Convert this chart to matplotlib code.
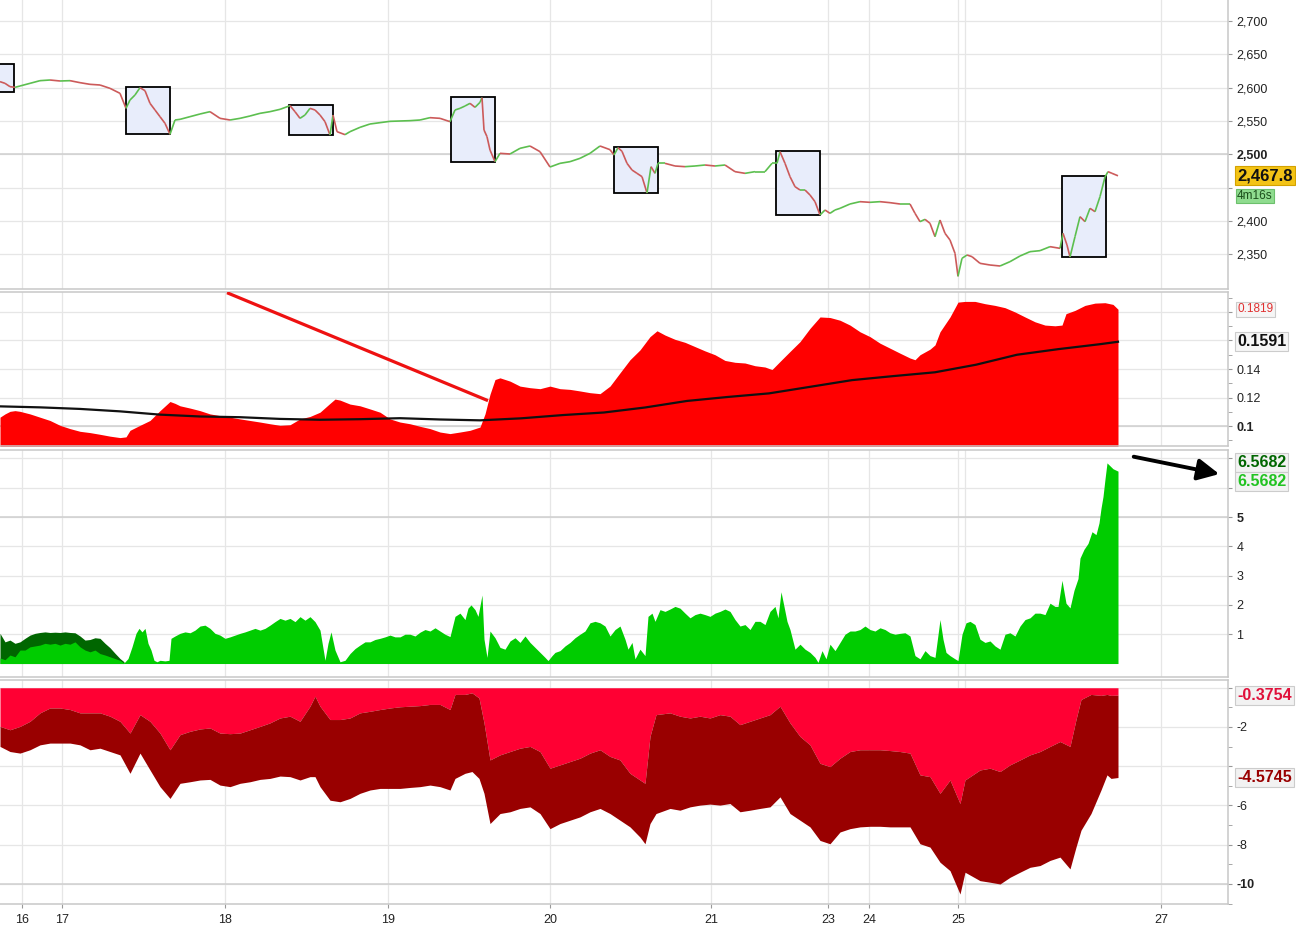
import numpy as np
import matplotlib
matplotlib.use('Agg')
import matplotlib.pyplot as plt
from matplotlib.collections import LineCollection
from matplotlib.patches import Rectangle

plt.rcParams['font.family'] = ['Liberation Sans', 'DejaVu Sans']

# time axis: bar position (weekends / nights compressed)
day_pos = [22, 62, 225, 388, 550, 711, 828, 869, 958, 1161]
day_labels = ['16', '17', '18', '19', '20', '21', '23', '24', '25', '27']
session_pos = [965]
x_end = 1228

# ---- panel 1: price ----
price_x = [0, 5, 10, 15, 20, 30, 40, 50, 60, 70, 80, 90, 100, 110, 120, 126, 130, 135, 140, 145,
           150, 155, 160, 165, 170, 175, 180, 190, 200, 210, 220, 230, 240, 250, 260, 270, 280, 290, 295, 300,
           305, 310, 315, 320, 325, 330, 333, 337, 345, 350, 360, 370, 380, 390, 400, 410, 420, 430, 440, 450,
           455, 460, 465, 470, 475, 480, 482, 484, 487, 490, 495, 500, 510, 520, 530, 540, 550, 560, 570, 580,
           590, 600, 610, 614, 618, 622, 627, 632, 637, 642, 647, 651, 655, 658, 665, 675, 685, 695, 705, 715,
           725, 735, 745, 755, 765, 772, 777, 780, 785, 790, 795, 800, 805, 810, 815, 820, 825, 830, 835, 840,
           850, 860, 870, 880, 890, 900, 910, 915, 920, 925, 930, 935, 940, 945, 950, 955, 958, 962, 967, 972,
           980, 990, 1000, 1010, 1020, 1030, 1040, 1050, 1060, 1063, 1067, 1070, 1075, 1080, 1085, 1090, 1095,
           1100, 1105, 1108, 1112, 1118]
price = [2609, 2606.5, 2601.5, 2600.5, 2602.5, 2606.5, 2610.5, 2611.5, 2610, 2610.5, 2607.5, 2605, 2604,
         2599, 2591.5, 2569, 2581.5, 2589, 2600, 2595.5, 2576.5, 2566.5, 2556.5, 2546.5, 2530, 2551.5, 2552.5,
         2556.5, 2560.5, 2564, 2554, 2551.5, 2554, 2557.5, 2561.5, 2564, 2567.5, 2573, 2564, 2554, 2559, 2569,
         2566.5, 2559, 2549, 2529, 2559, 2534, 2529.5, 2534, 2540.5, 2545.5, 2547.5, 2549.5, 2550, 2550.5,
         2551.5, 2555, 2554, 2549, 2566.5, 2569, 2572.5, 2576.5, 2570.5, 2578, 2585, 2536.5, 2526.5, 2506.5,
         2489, 2501.5, 2500.5, 2509, 2512.5, 2504, 2481, 2486.5, 2489, 2494, 2501.5, 2512.5, 2507, 2499, 2510,
         2504.5, 2486.5, 2476.5, 2471.5, 2466.5, 2442, 2481.5, 2471.5, 2486.5, 2486.5, 2482.5, 2481.5, 2482.5,
         2484, 2482.5, 2484, 2474, 2471.5, 2474, 2474, 2486.5, 2486.5, 2504, 2486.5, 2466.5, 2451.5, 2446.5,
         2446.5, 2439, 2429, 2409, 2416.5, 2411.5, 2416.5, 2419, 2425.5, 2429, 2428, 2429, 2427.5, 2425.5,
         2425.5, 2411.5, 2399, 2402.5, 2396.5, 2376.5, 2401.5, 2381.5, 2371.5, 2351.5, 2317, 2344, 2349,
         2346.5, 2336.5, 2334, 2332.5, 2339, 2347.5, 2354, 2355.5, 2361.5, 2359, 2381.5, 2364, 2346, 2376.5,
         2406.5, 2399, 2419, 2414, 2436.5, 2466, 2474, 2471.5, 2467.8]

box_start = [-30, 126, 289, 451, 614, 776, 1062]
box_end = [14, 170, 333, 495, 658, 820, 1106]
box_high = [2635, 2600.5, 2574, 2585.5, 2510.5, 2504.5, 2467.5]
box_low = [2593, 2530, 2528.5, 2488, 2441.5, 2408.5, 2345.5]

# ---- panel 2: volatility + average ----
vol_x = [0, 5, 10, 15, 20, 30, 40, 50, 60, 70, 80, 90, 100, 110, 120, 126, 130, 140, 150, 160, 170, 175,
         180, 190, 200, 210, 220, 230, 240, 250, 260, 270, 280, 290, 300, 310, 320, 330, 335, 340, 350, 360,
         370, 380, 390, 400, 410, 420, 430, 440, 450, 460, 470, 480, 485, 490, 495, 500, 510, 520, 530, 540,
         550, 560, 570, 580, 590, 600, 610, 620, 630, 640, 650, 657, 665, 675, 685, 695, 705, 715, 725, 735,
         745, 755, 765, 772, 780, 790, 800, 810, 820, 830, 840, 850, 860, 870, 880, 890, 900, 910, 915, 920,
         930, 935, 940, 950, 958, 965, 975, 985, 995, 1005, 1015, 1025, 1035, 1045, 1055, 1062, 1066, 1075,
         1085, 1095, 1105, 1113, 1118]
vol = [.1062, .1085, .1103, .1108, .1103, .1085, .1062, .1039, .1005, .0982, .0963, .0954, .0942, .0929,
       .0919, .0924, .0970, .1005, .1039, .1108, .1172, .1159, .1142, .1126, .1108, .1085, .1073, .1062,
       .1050, .1039, .1028, .1016, .1005, .1009, .1050, .1067, .1097, .1159, .1189, .1182, .1154, .1142,
       .1120, .1097, .1050, .1028, .1016, .0998, .0982, .0958, .0947, .0958, .0970, .0993, .1085, .1223,
       .1326, .1338, .1315, .128, .1269, .1262, .128, .1262, .1257, .1246, .1234, .1227, .128, .1373, .1465,
       .1534, .1627, .1668, .1638, .1608, .1587, .1557, .1527, .15, .146, .1447, .1442, .1423, .1414, .1396,
       .1453, .1523, .1592, .1685, .1765, .1761, .1742, .1708, .1661, .1627, .1581, .1546, .1511, .1477,
       .1465, .15, .1539, .1569, .1661, .1765, .1869, .1874, .1874, .1858, .1846, .183, .18, .1765, .1731,
       .1708, .1703, .1708, .1788, .1811, .1846, .1862, .1865, .1853, .1819]
avg_x = [0, 40, 80, 120, 160, 200, 240, 280, 320, 360, 400, 440, 480, 521, 563, 604, 645, 687, 728, 769,
         811, 852, 893, 935, 976, 1017, 1058, 1100, 1118]
avg = [.1138, .1131, .112, .1103, .108, .1067, .1062, .105, .1044, .1048, .1055, .1046, .104, .1054, .1077,
       .1095, .113, .1176, .1204, .1229, .1276, .1322, .135, .1377, .143, .15, .1539, .1574, .1591]
trend_x = [227, 488]
trend_y = [0.1935, 0.1178]

# ---- panel 3: green histogram ----
grn_x = [0, 5, 10, 15, 20, 25, 30, 35, 40, 45, 50, 55, 60, 65, 70, 75, 80, 85, 90, 95, 100, 105, 110, 115,
         120, 124, 128, 132, 136, 139, 142, 145, 148, 151, 154, 157, 160, 165, 169, 171, 175, 180, 185, 190,
         195, 200, 205, 210, 215, 220, 225, 230, 235, 240, 245, 250, 255, 260, 265, 270, 275, 280, 285, 290,
         295, 300, 305, 310, 315, 320, 325, 328, 331, 335, 340, 345, 350, 355, 360, 365, 370, 375, 380, 385,
         390, 395, 400, 405, 410, 415, 420, 425, 430, 435, 440, 445, 450, 455, 460, 465, 468, 471, 475, 478,
         482, 484, 487, 490, 495, 500, 505, 510, 515, 520, 525, 530, 535, 540, 545, 548, 552, 555, 560, 565,
         570, 575, 580, 585, 590, 595, 600, 605, 610, 615, 620, 625, 628, 632, 635, 640, 645, 648, 652, 655,
         660, 665, 670, 675, 680, 685, 690, 695, 700, 705, 710, 715, 720, 725, 730, 735, 740, 745, 750, 755,
         760, 765, 770, 775, 778, 781, 784, 787, 790, 795, 800, 805, 810, 815, 818, 822, 826, 830, 835, 840,
         845, 850, 855, 860, 865, 870, 875, 880, 885, 890, 895, 900, 905, 910, 915, 920, 925, 930, 935, 940,
         943, 946, 950, 955, 958, 962, 966, 970, 975, 980, 985, 990, 995, 1000, 1005, 1010, 1015, 1020, 1025,
         1030, 1035, 1040, 1045, 1050, 1055, 1058, 1062, 1066, 1070, 1074, 1078, 1080, 1084, 1088, 1092,
         1096, 1099, 1101, 1103, 1105, 1107, 1110, 1113, 1118]
grn = [.19, .13, .29, .23, .46, .46, .57, .6, .63, .69, .66, .69, .63, .69, .66, .74, .57, .46, .40, .46, .34,
       .29, .23, .17, .11, .02, .17, .57, 1.03, 1.20, 1.08, 1.20, .69, .46, .11, .06, .11, .09, .11, .86, .94,
       1.03, 1.08, 1.05, 1.14, 1.28, 1.31, 1.20, 1.03, .97, .86, .91, .97, 1.03, 1.08, 1.14, 1.20, 1.14, 1.20,
       1.31, 1.43, 1.54, 1.48, 1.54, 1.43, 1.60, 1.48, 1.60, 1.43, 1.14, .11, .69, 1.08, .46, .06, .11, .34,
       .51, .63, .74, .74, .82, .86, .91, .97, .91, .91, 1.0, 1.0, .94, 1.07, 1.16, 1.11, 1.22, 1.11, 1.0,
       .92, 1.61, 1.72, 1.50, 1.89, 2.0, 1.84, 1.61, 2.34, .83, .21, 1.11, .88, .55, .49, .77, .88, .72, .94,
       .72, .55, .38, .21, .10, .27, .38, .44, .6, .72, .88, 1.0, 1.11, 1.39, 1.44, 1.39, 1.28, .94, 1.16,
       1.28, .83, .49, .72, .16, .49, .27, 1.61, 1.72, 1.44, 1.84, 1.78, 1.86, 1.95, 1.89, 1.72, 1.56, 1.67,
       1.72, 1.67, 1.61, 1.72, 1.78, 1.86, 1.78, 1.50, 1.28, 1.33, 1.16, 1.44, 1.44, 1.33, 1.78, 1.95, 1.56,
       2.45, 1.95, 1.44, 1.16, .49, .66, .49, .38, .21, .04, .44, .16, .66, .44, .72, 1.0, 1.11, 1.11, 1.16,
       1.28, 1.16, 1.11, 1.22, 1.16, 1.05, 1.0, 1.03, 1.05, .94, .27, .16, .44, .27, .21, 1.50, .83, .38,
       .27, .16, .10, 1.0, 1.39, 1.44, 1.33, .83, .72, .77, .6, .49, 1.0, 1.05, .94, 1.28, 1.50, 1.56, 1.72,
       1.72, 1.67, 2.06, 1.95, 1.95, 2.84, 2.06, 1.9, 2.5, 2.9, 3.6, 3.9, 4.1, 4.5, 4.4, 4.8, 5.3, 5.7, 6.3,
       6.85, 6.75, 6.65, 6.5682]
dgrn_x = [0, 5, 10, 15, 20, 25, 30, 35, 40, 45, 50, 55, 60, 65, 70, 75, 80, 85, 90, 95, 100, 105, 110,
          115, 120, 124]
dgrn = [1.03, .74, .80, .69, .74, .86, .97, 1.03, 1.06, 1.08, 1.06, 1.07, 1.06, 1.08, 1.06, 1.05, .94, .80,
        .82, .88, .86, .69, .54, .35, .17, .06]

# ---- panel 4: red bands ----
red_x = [0, 10, 20, 30, 40, 50, 60, 70, 80, 90, 100, 110, 120, 130, 140, 150, 160, 170, 180, 190, 200, 210,
         220, 230, 240, 250, 260, 270, 280, 290, 300, 310, 315, 320, 330, 340, 350, 360, 370, 380, 390, 400,
         410, 420, 430, 440, 450, 455, 465, 472, 479, 484, 490, 500, 510, 520, 530, 540, 550, 560, 570, 580,
         590, 600, 610, 620, 630, 640, 645, 650, 656, 670, 680, 690, 700, 710, 720, 730, 740, 750, 760, 770,
         780, 790, 800, 810, 820, 830, 840, 850, 860, 870, 880, 890, 900, 910, 920, 930, 940, 950, 960, 965,
         980, 990, 1000, 1010, 1020, 1030, 1040, 1050, 1060, 1070, 1076, 1081, 1091, 1101, 1107, 1111, 1118]
red_top = [-1.97, -2.14, -1.97, -1.71, -1.28, -1.03, -1.03, -1.11, -1.28, -1.28, -1.28, -1.45, -1.71, -2.31,
           -1.37, -1.71, -2.31, -3.16, -2.39, -2.22, -2.10, -2.05, -2.31, -2.34, -2.31, -2.14, -1.97, -1.79,
           -1.54, -1.45, -1.71, -0.94, -0.43, -0.94, -1.62, -1.62, -1.54, -1.28, -1.2, -1.11, -1.03, -0.97,
           -0.94, -0.91, -0.85, -0.85, -1.11, -0.34, -0.34, -0.26, -0.52, -1.79, -3.68, -3.42, -3.25, -3.08,
           -2.99, -3.25, -4.10, -3.93, -3.76, -3.59, -3.33, -3.16, -3.50, -3.68, -4.36, -4.70, -4.87, -2.48,
           -1.37, -1.28, -1.45, -1.54, -1.45, -1.54, -1.37, -1.45, -1.88, -1.71, -1.54, -1.37, -0.94, -1.79,
           -2.48, -2.91, -3.85, -4.02, -3.59, -3.25, -3.16, -3.16, -3.16, -3.20, -3.25, -3.33, -4.44, -4.53,
           -5.38, -4.70, -5.90, -4.70, -4.19, -4.10, -4.27, -3.93, -3.68, -3.42, -3.25, -2.99, -2.74, -2.99,
           -1.62, -0.6, -0.34, -0.39, -0.34, -0.39, -0.3754]
red_low = [-2.99, -3.25, -3.33, -3.16, -2.91, -2.82, -2.82, -2.82, -2.91, -3.16, -3.08, -3.25, -3.42, -4.36,
           -3.33, -4.19, -5.04, -5.64, -4.87, -4.79, -4.70, -4.67, -4.96, -5.04, -4.87, -4.79, -4.67, -4.62,
           -4.50, -4.53, -4.70, -4.53, -4.53, -5.04, -5.73, -5.81, -5.64, -5.38, -5.21, -5.13, -5.13, -5.13,
           -5.08, -5.04, -4.96, -5.04, -5.21, -4.62, -4.36, -4.27, -4.62, -5.38, -6.92, -6.41, -6.32, -6.15,
           -6.07, -6.41, -7.18, -6.92, -6.75, -6.58, -6.32, -6.15, -6.41, -6.75, -7.09, -7.61, -7.95, -6.92,
           -6.41, -6.15, -6.24, -6.07, -5.98, -5.93, -5.98, -5.90, -6.32, -6.24, -6.15, -6.07, -5.56, -6.41,
           -6.75, -7.09, -7.78, -7.95, -7.35, -7.18, -7.09, -7.06, -7.06, -7.09, -7.09, -7.09, -7.95, -8.12,
           -8.89, -9.32, -10.51, -9.40, -9.83, -9.91, -10.0, -9.66, -9.40, -9.15, -9.06, -8.80, -8.63, -9.23,
           -8.12, -7.26, -6.41, -5.21, -4.44, -4.62, -4.5745]

grid_c = '#e6e6e6'
frame_c = '#c8c8c8'

fig = plt.figure(figsize=(12.96, 9.27), dpi=100)
W = x_end / 1296
ax1 = fig.add_axes([0, 1 - 289 / 927, W, 289 / 927])
ax2 = fig.add_axes([0, 1 - 446 / 927, W, 154 / 927])
ax3 = fig.add_axes([0, 1 - 677 / 927, W, 227 / 927])
ax4 = fig.add_axes([0, 1 - 904 / 927, W, 224 / 927])
axes = [ax1, ax2, ax3, ax4]

for ax in axes:
    ax.set_xlim(0, x_end)
    ax.set_xticks(day_pos)
    ax.set_xticks(session_pos, minor=True)
    ax.set_axisbelow(True)
    ax.grid(True, which='both', axis='x', color=grid_c, lw=0.9)
    ax.grid(True, which='major', axis='y', color=grid_c, lw=0.9)
    ax.yaxis.tick_right()
    ax.tick_params(axis='y', which='both', length=3, color='#999999', pad=3, labelsize=9,
                   labelcolor='#222222')
    ax.tick_params(axis='x', which='both', bottom=False, labelbottom=False)
    ax.tick_params(axis='x', which='minor', length=0)
    ax.spines['left'].set_visible(False)
    for s in ['right', 'top', 'bottom']:
        ax.spines[s].set_color(frame_c)
        ax.spines[s].set_linewidth(1.1)
    ax.set_facecolor('white')
ax1.spines['top'].set_visible(False)

ax4.set_xticklabels(day_labels)
ax4.tick_params(axis='x', which='major', bottom=True, labelbottom=True, length=3, color='#999999',
                labelsize=9, labelcolor='#222222', pad=4)


def style_ticks(ax, ticks, labels, bold):
    ax.set_yticks(ticks)
    ax.set_yticklabels(labels)
    for t, lab in zip(ticks, ax.get_yticklabels()):
        if t == bold:
            lab.set_fontweight('bold')
    ax.axhline(bold, color='#cfcfcf', lw=1.1, zorder=0.6)


def value_box(ax, val, txt, color, fc, ec, size=11, weight='bold', dy=0):
    ax.annotate(txt, xy=(1, val), xycoords=('axes fraction', 'data'), xytext=(6.5, dy),
                textcoords='offset points', va='center', ha='left', fontsize=size, fontweight=weight,
                color=color, annotation_clip=False,
                bbox=dict(boxstyle='square,pad=0.12', fc=fc, ec=ec, lw=0.8))


# panel 1
for s, e, hi, lo in zip(box_start, box_end, box_high, box_low):
    ax1.add_patch(Rectangle((s, lo), e - s, hi - lo, fc='#e8edfb', ec='black', lw=1.3, zorder=2))
px = np.array(price_x, dtype=float)
py = np.array(price, dtype=float)
segs = np.stack([np.column_stack([px[:-1], py[:-1]]), np.column_stack([px[1:], py[1:]])], axis=1)
cols = np.where(np.diff(py) >= 0, '#5cbf4f', '#cc5a5a')
ax1.add_collection(LineCollection(segs, colors=cols, lw=1.2, zorder=3))
ax1.set_ylim(2298, 2731.5)
p_ticks = [2350, 2400, 2450, 2500, 2550, 2600, 2650, 2700]
style_ticks(ax1, p_ticks, ['2,350', '2,400', '', '2,500', '2,550', '2,600', '2,650', '2,700'], 2500)
value_box(ax1, price[-1], '2,467.8', '#111111', '#f3c316', '#d4a200', size=12)
value_box(ax1, price[-1], '4m16s', '#1a4d1a', '#8fdc8f', '#6cc06c', size=8.5, weight='normal', dy=-14.5)

# panel 2
ax2.fill_between(vol_x, 0, vol, color='#ff0000', lw=0, zorder=2)
ax2.plot(avg_x, avg, color='#111111', lw=1.6, zorder=3)
ax2.plot(trend_x, trend_y, color='#ee1111', lw=2.3, zorder=4, solid_capstyle='butt')
ax2.set_ylim(0.086, 0.194)
style_ticks(ax2, [0.1, 0.12, 0.14, 0.16, 0.18], ['0.1', '0.12', '0.14', '', ''], 0.1)
ax2.set_yticks(np.arange(0.09, 0.195, 0.01), minor=True)
value_box(ax2, vol[-1], '0.1819', '#e03030', '#f6f6f6', '#cccccc', size=8.5, weight='normal')
value_box(ax2, avg[-1], '0.1591', '#111111', '#f6f6f6', '#cccccc', size=11.5)

# panel 3
ax3.fill_between(dgrn_x, 0, dgrn, color='#006600', lw=0, zorder=2)
ax3.fill_between(grn_x, 0, grn, color='#00cc00', lw=0, zorder=3)
ax3.set_ylim(-0.46, 7.29)
style_ticks(ax3, [1, 2, 3, 4, 5, 6, 7], ['1', '2', '3', '4', '5', '', ''], 5)
value_box(ax3, grn[-1], '6.5682', '#006600', '#f2f2f2', '#cccccc', size=11.5, dy=6)
value_box(ax3, grn[-1], '6.5682', '#22c322', '#f2f2f2', '#cccccc', size=11.5, dy=-7.5)
ax3.annotate('', xy=(1222, 6.45), xytext=(1131, 7.08), xycoords='data', annotation_clip=False,
             arrowprops=dict(arrowstyle='-|>,head_length=1.3,head_width=0.65', color='black', lw=2.8))

# panel 4
ax4.fill_between(red_x, 0, red_top, color='#ff0033', lw=0, zorder=2)
ax4.fill_between(red_x, red_top, red_low, color='#990000', lw=0, zorder=2)
ax4.set_ylim(-11.02, 0.395)
style_ticks(ax4, [0, -2, -4, -6, -8, -10], ['', '-2', '', '-6', '-8', '-10'], -10)
ax4.set_yticks([-1, -3, -5, -7, -9, -11], minor=True)
value_box(ax4, red_top[-1], '-0.3754', '#e0103a', '#f2f2f2', '#cccccc', size=11.5)
value_box(ax4, red_low[-1], '-4.5745', '#990000', '#f2f2f2', '#cccccc', size=11.5)

fig.savefig('out.png', dpi=100)
